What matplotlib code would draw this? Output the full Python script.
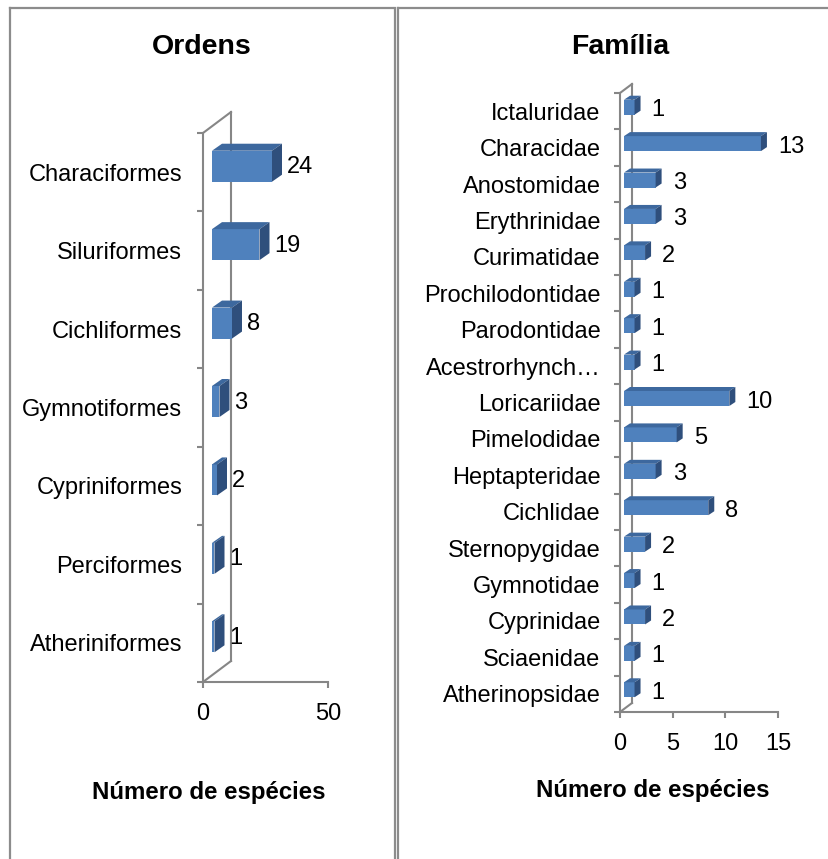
import matplotlib
matplotlib.use('Agg')
import matplotlib.pyplot as plt
from matplotlib.patches import Polygon
from matplotlib.lines import Line2D

plt.rcParams['font.family'] = ['Liberation Sans', 'DejaVu Sans']

# ---- data ----
ordens = ['Characiformes', 'Siluriformes', 'Cichliformes', 'Gymnotiformes',
          'Cypriniformes', 'Perciformes', 'Atheriniformes']
ordens_vals = [24, 19, 8, 3, 2, 1, 1]
ordens_xticks = [0, 50]

familias = ['Ictaluridae', 'Characidae', 'Anostomidae', 'Erythrinidae', 'Curimatidae',
            'Prochilodontidae', 'Parodontidae', 'Acestrorhynch…', 'Loricariidae',
            'Pimelodidae', 'Heptapteridae', 'Cichlidae', 'Sternopygidae', 'Gymnotidae',
            'Cyprinidae', 'Sciaenidae', 'Atherinopsidae']
familias_vals = [1, 13, 3, 3, 2, 1, 1, 1, 10, 5, 3, 8, 2, 1, 2, 1, 1]
familias_xticks = [0, 5, 10, 15]

titles = ['Ordens', 'Família']
xlabel = 'Número de espécies'

# ---- style ----
W, H = 829, 859
GRAY = '#868686'
BORDER = '#8c8c8c'
FRONT = '#4F81BD'
TOP = '#3D689E'
SIDE = '#2F4F7C'

fig = plt.figure(figsize=(W / 100, H / 100), dpi=100)


def px_axes(x0, x1, ytop, ybot):
    return fig.add_axes([x0 / W, 1 - ybot / H, (x1 - x0) / W, (ybot - ytop) / H])


def panel(ax, cats, vals, xticks, wall, bar_off, depth, bar_h, gap, ypad, xpad, lab_dy):
    n = len(cats)
    xmax = xticks[-1]
    ax.set_xlim(0, xmax)
    ax.set_ylim(n - 0.5, -0.5)
    ax.patch.set_visible(False)
    pos = ax.get_position()
    ppx = pos.width * W / xmax
    ppy = pos.height * H / n
    wx, wy = wall[0] / ppx, wall[1] / ppy
    bx, by = bar_off[0] / ppx, bar_off[1] / ppy
    dx, dy = depth[0] / ppx, depth[1] / ppy
    h = bar_h / ppy

    lw = 1.5
    # walls
    for xs, ys in [([wx, wx], [-0.5 - wy, n - 0.5 - wy]),
                   ([0, wx], [-0.5, -0.5 - wy]),
                   ([0, wx], [n - 0.5, n - 0.5 - wy])]:
        ax.add_line(Line2D(xs, ys, color=GRAY, lw=lw, clip_on=False, zorder=1))

    for s in ['top', 'right']:
        ax.spines[s].set_visible(False)
    for s in ['left', 'bottom']:
        ax.spines[s].set_color(GRAY)
        ax.spines[s].set_linewidth(lw)
        ax.spines[s].set_zorder(1)

    ypos = [i - by for i in range(n)]
    ax.barh(ypos, vals, left=bx, height=h, color=FRONT, edgecolor='none',
            zorder=3, clip_on=False)
    for yc, v in zip(ypos, vals):
        y0, y1 = yc - h / 2, yc + h / 2
        top = [(bx, y0), (bx + v, y0), (bx + v + dx, y0 - dy), (bx + dx, y0 - dy)]
        side = [(bx + v, y0), (bx + v, y1), (bx + v + dx, y1 - dy), (bx + v + dx, y0 - dy)]
        ax.add_patch(Polygon(top, closed=True, facecolor=TOP, edgecolor='none',
                             zorder=3, clip_on=False))
        ax.add_patch(Polygon(side, closed=True, facecolor=SIDE, edgecolor='none',
                             zorder=3, clip_on=False))
        ax.text(bx + v + dx + gap / ppx, yc + lab_dy / ppy, str(v), ha='left',
                va='center', fontsize=17, color='black', zorder=4, clip_on=False)

    ax.set_yticks(range(n))
    ax.set_yticklabels(cats, fontsize=17)
    ax.set_yticks([i - 0.5 for i in range(n + 1)], minor=True)
    ax.tick_params(axis='y', which='major', length=0, pad=ypad)
    ax.tick_params(axis='y', which='minor', length=4.5, width=lw, color=GRAY, direction='out')
    ax.set_xticks(xticks)
    ax.set_xticklabels([str(t) for t in xticks], fontsize=17)
    ax.tick_params(axis='x', which='major', length=4, width=lw, color=GRAY,
                   direction='out', pad=xpad)


ax1 = px_axes(203, 328, 133, 682)
panel(ax1, ordens, ordens_vals, ordens_xticks, wall=(28, 21), bar_off=(9, 6),
      depth=(10, 7), bar_h=31, gap=5, ypad=15, xpad=11, lab_dy=1)

ax2 = px_axes(620, 778, 93, 712)
panel(ax2, familias, familias_vals, familias_xticks, wall=(12, 9), bar_off=(4, 4),
      depth=(6, 4), bar_h=15, gap=11, ypad=14, xpad=11, lab_dy=3)

# titles and axis labels
fig.text(202 / W, 1 - 47 / H, titles[0], ha='center', va='center', fontsize=20.5,
         fontweight='bold')
fig.text(620 / W, 1 - 47 / H, titles[1], ha='center', va='center', fontsize=20.5,
         fontweight='bold')
fig.text(209 / W, 1 - 792 / H, xlabel, ha='center', va='center', fontsize=17.3,
         fontweight='bold')
fig.text(653 / W, 1 - 790 / H, xlabel, ha='center', va='center', fontsize=17.3,
         fontweight='bold')

# panel borders
for xs, ys in [([10.5, 10.5], [8, H]), ([10, 393], [8, 8]), ([398, W], [8, 8]),
               ([395.5, 395.5], [8, H]), ([398.5, 398.5], [8, H])]:
    fig.add_artist(Line2D([x / W for x in xs], [1 - y / H for y in ys], color=BORDER,
                          lw=1.6, transform=fig.transFigure))

fig.savefig('out.png', dpi=100)
